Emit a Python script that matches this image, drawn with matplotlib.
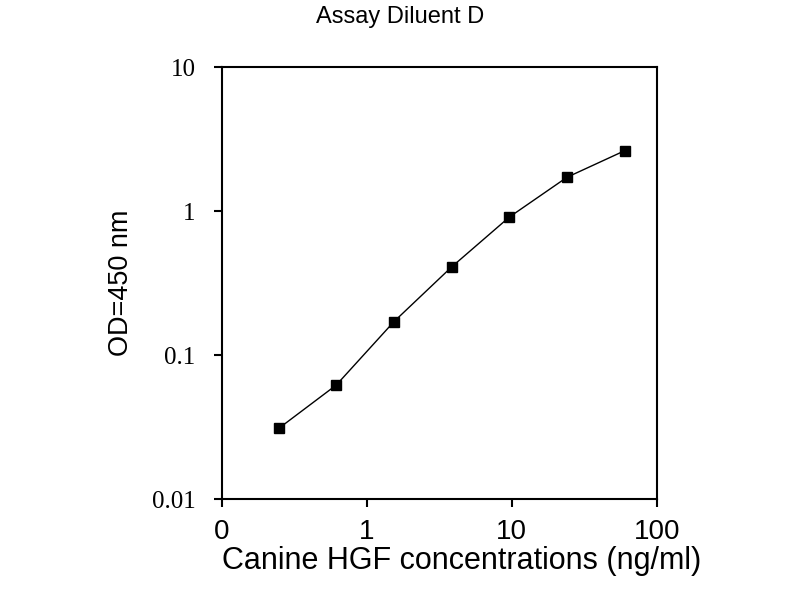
import matplotlib
matplotlib.use('Agg')
import matplotlib.pyplot as plt
from matplotlib.ticker import FixedLocator, FixedFormatter, NullLocator

# HGF standard curve, 2.5-fold dilutions
conc = [0.246, 0.614, 1.536, 3.84, 9.6, 24.0, 60.0]
od450 = [0.031, 0.062, 0.171, 0.41, 0.91, 1.72, 2.63]

x_ticks = [0.1, 1, 10, 100]
x_tick_labels = ['0', '1', '10', '100']
y_ticks = [0.01, 0.1, 1, 10]
y_tick_labels = ['0.01', '0.1', '1', '10']

plt.rcParams['font.family'] = ['Liberation Sans', 'DejaVu Sans']

fig = plt.figure(figsize=(8, 6), dpi=100)
ax = fig.add_axes([0.2775, 0.168, 0.5435, 0.72])

ax.plot(conc, od450, color='black', linewidth=1, marker='s', markersize=7)

ax.set_xscale('log')
ax.set_yscale('log')
ax.set_xlim(0.1, 100)
ax.set_ylim(0.01, 10)

ax.xaxis.set_major_locator(FixedLocator(x_ticks))
ax.xaxis.set_major_formatter(FixedFormatter(x_tick_labels))
ax.xaxis.set_minor_locator(NullLocator())
ax.yaxis.set_major_locator(FixedLocator(y_ticks))
ax.yaxis.set_major_formatter(FixedFormatter(y_tick_labels))
ax.yaxis.set_minor_locator(NullLocator())

ax.tick_params(axis='both', direction='out', length=6, width=1.5)
ax.tick_params(axis='x', labelsize=20, pad=8)
ax.tick_params(axis='y', labelsize=18, pad=13)
for lbl in ax.get_yticklabels():
    lbl.set_family('Liberation Serif')

for sp in ax.spines.values():
    sp.set_linewidth(1.5)

# title sits at the figure centre, not the axes centre
fig.text(0.5, 0.972, 'Assay Diluent D', fontsize=17, ha='center', va='center')
ax.set_xlabel('Canine HGF concentrations (ng/ml)', fontsize=22)
ax.xaxis.set_label_coords(0.552, -0.108)
ax.set_ylabel('OD=450 nm', fontsize=19.5, labelpad=13)

fig.savefig('out.png', dpi=100)
